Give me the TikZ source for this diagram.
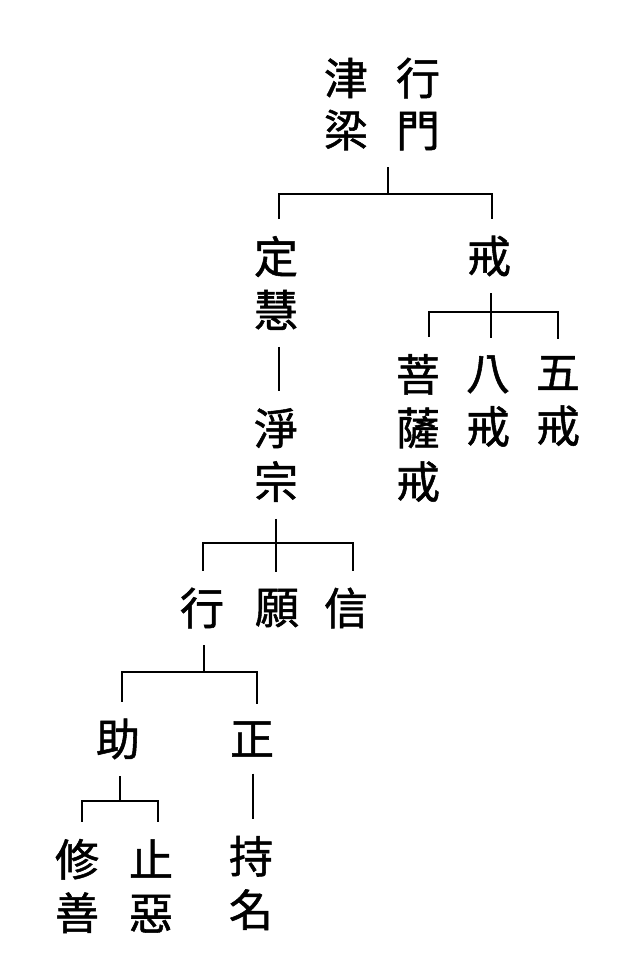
\documentclass[tikz,border=0pt]{standalone}
\usepackage{fontspec}
\newfontfamily\cjk{Noto Sans CJK TC}[FakeBold=1.2]
\usepackage{tikz}
\usetikzlibrary{positioning,calc}

\begin{document}
\begin{tikzpicture}[
    x=1pt, y=-1pt,
    col/.style={inner sep=0pt, outer sep=17pt, align=center, font=\cjk\fontsize{44}{53.5}\selectfont},
    topcol/.style={col, font=\cjk\fontsize{44}{52}\selectfont},
    branch/.style={line width=1.8pt, black}
]
    \useasboundingbox (0,0) rectangle (622,979);

    % Root
    \node[topcol] (jinliang) at (346,104) {津\\梁};
    \node[topcol] (xingmen) at (418,104) {行\\門};

    % Level 1
    \node[col] (dinghui) at (276,283) {定\\慧};
    \node[col] (jie) at (489,256) {戒};

    % Precepts
    \node[col] (pusajie) at (418,428) {菩\\薩\\戒};
    \node[col] (bajie) at (488,401) {八\\戒};
    \node[col] (wujie) at (558,401) {五\\戒};

    % Pure Land
    \node[col] (jingzong) at (276,455) {淨\\宗};
    \node[col] (xing) at (202,608) {行};
    \node[col] (yuan) at (277,608) {願};
    \node[col] (xin) at (346,608) {信};

    % Practice
    \node[col] (zhu) at (118,739) {助};
    \node[col] (zheng) at (252,739) {正};
    \node[col] (xiushan) at (77,886) {修\\善};
    \node[col] (zhie) at (151,886) {止\\惡};
    \node[col] (chiming) at (251,883) {持\\名};

    % Bar points
    \coordinate (rootbar) at (388,194);
    \coordinate (jiebar) at (491,312);
    \coordinate (zongbar) at (276,543);
    \coordinate (xingbar) at (204,672);
    \coordinate (zhubar) at (120,801);

    % Connectors
    \draw[branch] (rootbar |- jinliang.south) -- (rootbar);
    \draw[branch] ([xshift=3pt]dinghui.north) |- (rootbar) -| ([xshift=3pt]jie.north);

    \draw[branch] (jiebar |- jie.south) -- (jiebar |- bajie.north);
    \draw[branch] ([xshift=11pt]pusajie.north) |- (jiebar) -| ([xshift=0pt]wujie.north);

    \draw[branch] ([xshift=3pt]dinghui.south) -- ([xshift=3pt]jingzong.north);

    \draw[branch] (jingzong.south) -- (zongbar |- yuan.north);
    \draw[branch] ([xshift=1pt]xing.north) |- (zongbar) -| ([xshift=7pt]xin.north);

    \draw[branch] (xingbar |- xing.south) -- (xingbar);
    \draw[branch] ([xshift=4pt]zhu.north) |- (xingbar) -| ([xshift=5pt]zheng.north);

    \draw[branch] ([xshift=1pt]zheng.south) -- ([xshift=2pt]chiming.north);

    \draw[branch] (zhubar |- zhu.south) -- (zhubar);
    \draw[branch] ([xshift=5pt]xiushan.north) |- (zhubar) -| ([xshift=7pt]zhie.north);
\end{tikzpicture}
\end{document}
